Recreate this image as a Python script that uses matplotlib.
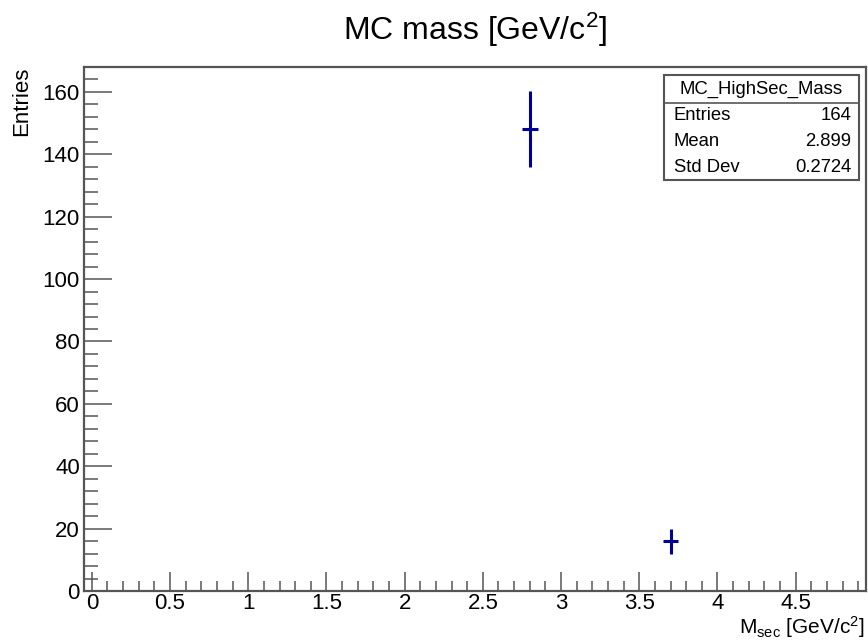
import numpy as np
import matplotlib
matplotlib.use("Agg")
import matplotlib.pyplot as plt
from matplotlib.patches import Rectangle
from matplotlib.lines import Line2D
from matplotlib.ticker import MultipleLocator

plt.rcParams['font.family'] = ['Liberation Sans', 'DejaVu Sans']
plt.rcParams['mathtext.fontset'] = 'custom'
plt.rcParams['mathtext.rm'] = 'Liberation Sans'
plt.rcParams['mathtext.it'] = 'Liberation Sans'

# histogram content (non-empty bins only)
bin_centers = [2.8, 3.7]
counts = [148, 16]
count_err = [12.2, 4.0]
bin_width = 0.1

stat_labels = ["Entries", "Mean", "Std Dev"]
stat_values = ["164", "2.899", "0.2724"]

fig = plt.figure(figsize=(8.68, 6.41), dpi=100)
ax = fig.add_axes([0.0968, 0.078, 0.9009, 0.8175])

ax.errorbar(bin_centers, counts, xerr=bin_width / 2, yerr=count_err,
            fmt='none', ecolor='#000099', elinewidth=2.2, capsize=0)

ax.set_xlim(-0.05, 4.95)
ax.set_ylim(0, 168)

ax.xaxis.set_minor_locator(MultipleLocator(0.1))
ax.yaxis.set_major_locator(MultipleLocator(20))
ax.yaxis.set_minor_locator(MultipleLocator(4))
ax.set_xticks(np.arange(0, 4.51, 0.5))
ax.set_xticklabels(['0', '0.5', '1', '1.5', '2', '2.5', '3', '3.5', '4', '4.5'])

ax.tick_params(axis='x', which='major', direction='in', length=13.5, width=1.1,
               color='#555555', labelsize=16, pad=1.5)
ax.tick_params(axis='x', which='minor', direction='in', length=7, width=1.1,
               color='#555555')
ax.tick_params(axis='y', which='major', direction='in', length=20, width=1.1,
               color='#555555', labelsize=16, pad=3)
ax.tick_params(axis='y', which='minor', direction='in', length=10, width=1.1,
               color='#555555')
for s in ax.spines.values():
    s.set_color('#555555')
    s.set_linewidth(1.6)

# axis titles, ROOT style
fig.text(0.9965, 0.002, r'M$_{\rm sec}$ [GeV/c$^{2}$]', ha='right', va='bottom',
         fontsize=15)
fig.text(0.025, 0.8955, 'Entries', rotation=90, ha='center', va='top',
         fontsize=16)
fig.text(0.547, 0.953, r'MC mass [GeV/c$^{2}$]', ha='center', va='center',
         fontsize=23)

# stats box
bx0, bx1 = 0.765, 0.9896
by0, by1 = 0.719, 0.883
fig.patches.append(Rectangle((bx0, by0), bx1 - bx0, by1 - by0,
                             transform=fig.transFigure, facecolor='white',
                             edgecolor='#555555', linewidth=1.5, zorder=5))
fig.lines.append(Line2D([bx0, bx1], [0.839, 0.839], transform=fig.transFigure,
                        color='#555555', linewidth=1.2, zorder=6))
fig.text((bx0 + bx1) / 2, 0.861, 'MC_HighSec_Mass', ha='center', va='center',
         fontsize=13.3, zorder=7)
row_y = [0.820, 0.779, 0.739]
for lab, val, yy in zip(stat_labels, stat_values, row_y):
    fig.text(bx0 + 0.011, yy, lab, ha='left', va='center', fontsize=13.3, zorder=7)
    fig.text(bx1 - 0.009, yy, val, ha='right', va='center', fontsize=13.3, zorder=7)

fig.savefig('out.png', dpi=100)
